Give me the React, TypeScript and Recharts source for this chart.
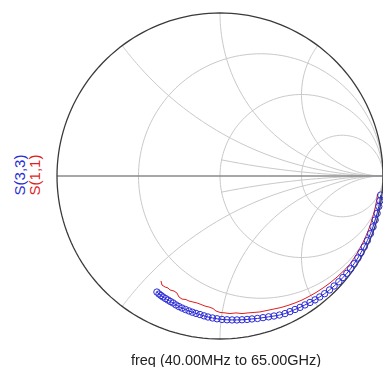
import { ComposedChart, Line, XAxis, YAxis } from 'recharts';

// Smith chart grid values
const resistanceCircles = [0, 1 / 3, 1, 3];
const reactanceArcs = [0.5, 1, 2, -0.5, -1, -2];
// short reactance arcs that start on the r = 1 circle
const innerReactanceArcs = [0.2, -0.2];

// S(3,3) reflection coefficient (real / imag), 40 MHz .. 65 GHz
const s33Re = [
  -0.387, -0.374, -0.362, -0.350, -0.334, -0.319, -0.304, -0.288, -0.270, -0.252,
  -0.233, -0.212, -0.190, -0.169, -0.147, -0.123, -0.098, -0.074, -0.046, -0.018,
  0.012, 0.043, 0.074, 0.104, 0.135, 0.166, 0.196, 0.230, 0.264, 0.298,
  0.331, 0.365, 0.399, 0.429, 0.460, 0.491, 0.521, 0.552, 0.583, 0.612,
  0.642, 0.672, 0.700, 0.729, 0.754, 0.778, 0.801, 0.823, 0.846, 0.865,
  0.885, 0.904, 0.923, 0.939, 0.952, 0.964, 0.974, 0.981, 0.986,
];
const s33Im = [
  -0.712, -0.724, -0.733, -0.742, -0.752, -0.761, -0.770, -0.779, -0.791, -0.801,
  -0.810, -0.819, -0.828, -0.836, -0.843, -0.850, -0.858, -0.865, -0.871, -0.876,
  -0.880, -0.882, -0.883, -0.883, -0.882, -0.880, -0.877, -0.874, -0.869, -0.864,
  -0.859, -0.853, -0.844, -0.832, -0.819, -0.806, -0.791, -0.776, -0.760, -0.742,
  -0.722, -0.699, -0.675, -0.649, -0.623, -0.597, -0.569, -0.538, -0.503, -0.470,
  -0.434, -0.396, -0.353, -0.312, -0.270, -0.229, -0.187, -0.152, -0.117,
];

// S(1,1) reflection coefficient (real / imag)
const s11Re = [
  -0.362, -0.356, -0.337, -0.319, -0.307, -0.282, -0.264, -0.252, -0.233, -0.209,
  -0.190, -0.166, -0.141, -0.117, -0.092, -0.067, -0.043, -0.025, 0.000, 0.031,
  0.061, 0.098, 0.135, 0.172, 0.209, 0.245, 0.288, 0.331, 0.374, 0.417,
  0.460, 0.503, 0.546, 0.589, 0.632, 0.675, 0.718, 0.761, 0.798, 0.829,
  0.857, 0.883, 0.906, 0.926, 0.942, 0.955, 0.962, 0.966,
];
const s11Im = [
  -0.644, -0.669, -0.681, -0.687, -0.699, -0.706, -0.718, -0.742, -0.755, -0.758,
  -0.767, -0.773, -0.779, -0.788, -0.798, -0.804, -0.813, -0.828, -0.837, -0.840,
  -0.844, -0.840, -0.844, -0.840, -0.837, -0.834, -0.825, -0.816, -0.807, -0.794,
  -0.779, -0.761, -0.739, -0.715, -0.687, -0.656, -0.620, -0.580, -0.540, -0.494,
  -0.447, -0.396, -0.345, -0.289, -0.235, -0.181, -0.145, -0.110,
];

type Pt = { u: number; v: number };

// z = r + jx  ->  gamma = (z - 1) / (z + 1)
const gamma = (r: number, x: number): Pt => {
  const d = (r + 1) * (r + 1) + x * x;
  return { u: (r * r + x * x - 1) / d, v: (2 * x) / d };
};

const rCircle = (r: number): Pt[] => {
  const c = r / (1 + r);
  const rad = 1 / (1 + r);
  const pts: Pt[] = [];
  for (let a = 0; a <= 360; a += 2) {
    const t = (a * Math.PI) / 180;
    pts.push({ u: c + rad * Math.cos(t), v: rad * Math.sin(t) });
  }
  return pts;
};

const xArc = (x: number, rStart: number): Pt[] => {
  const pts: Pt[] = [gamma(rStart, x)];
  for (let r = Math.max(rStart, 0.005); r < 2000; r *= 1.12) pts.push(gamma(r, x));
  pts.push({ u: 1, v: 0 });
  return pts;
};

const gridLines = [
  ...resistanceCircles.slice(1).map(rCircle),
  ...reactanceArcs.map((x) => xArc(x, 0)),
  ...innerReactanceArcs.map((x) => xArc(x, 1)),
];
const outer = rCircle(resistanceCircles[0]);
const realAxis: Pt[] = [{ u: -1, v: 0 }, { u: 1, v: 0 }];

const s33 = s33Re.map((u, i) => ({ u, v: s33Im[i] }));
const s11 = s11Re.map((u, i) => ({ u, v: s11Im[i] }));

const BLUE = '#2b2bd6';
const RED = '#e01e1e';
const FONT = '"Liberation Sans", Arial, sans-serif';

export default function App() {
  return (
    <div style={{ position: 'fixed', left: 0, top: 0, width: 383, height: 367, background: '#fff' }}>
      <ComposedChart width={383} height={367} margin={{ top: 13, right: 0, bottom: 28, left: 57 }}>
        <XAxis type="number" dataKey="u" domain={[-1, 1]} hide />
        <YAxis type="number" domain={[-1, 1]} hide />
        {gridLines.map((pts, i) => (
          <Line key={'g' + i} data={pts} dataKey="v" stroke="#c9c9c9" strokeWidth={1}
            dot={false} activeDot={false} isAnimationActive={false} />
        ))}
        <Line data={realAxis} dataKey="v" stroke="#8a8a8a" strokeWidth={1.6}
          dot={false} activeDot={false} isAnimationActive={false} />
        <Line data={outer} dataKey="v" stroke="#3a3a3a" strokeWidth={1.3}
          dot={false} activeDot={false} isAnimationActive={false} />
        <Line data={s11} dataKey="v" stroke={RED} strokeWidth={1}
          dot={false} activeDot={false} isAnimationActive={false} />
        <Line data={s33} dataKey="v" stroke={BLUE} strokeWidth={1}
          dot={{ r: 3.2, stroke: BLUE, strokeWidth: 1, fill: 'none' }}
          activeDot={false} isAnimationActive={false} />
      </ComposedChart>
      <div style={{ position: 'absolute', left: 18.5, top: 175, transform: 'translate(-50%, -50%) rotate(-90deg)',
        font: `15px ${FONT}`, lineHeight: 1, color: BLUE, whiteSpace: 'nowrap' }}>S(3,3)</div>
      <div style={{ position: 'absolute', left: 34, top: 175, transform: 'translate(-50%, -50%) rotate(-90deg)',
        font: `15px ${FONT}`, lineHeight: 1, color: RED, whiteSpace: 'nowrap' }}>S(1,1)</div>
      <div style={{ position: 'absolute', left: 226, top: 360, transform: 'translate(-50%, -50%)',
        font: `14.5px ${FONT}`, lineHeight: 1, color: '#222', whiteSpace: 'nowrap' }}>
        freq (40.00MHz to 65.00GHz)
      </div>
    </div>
  );
}
